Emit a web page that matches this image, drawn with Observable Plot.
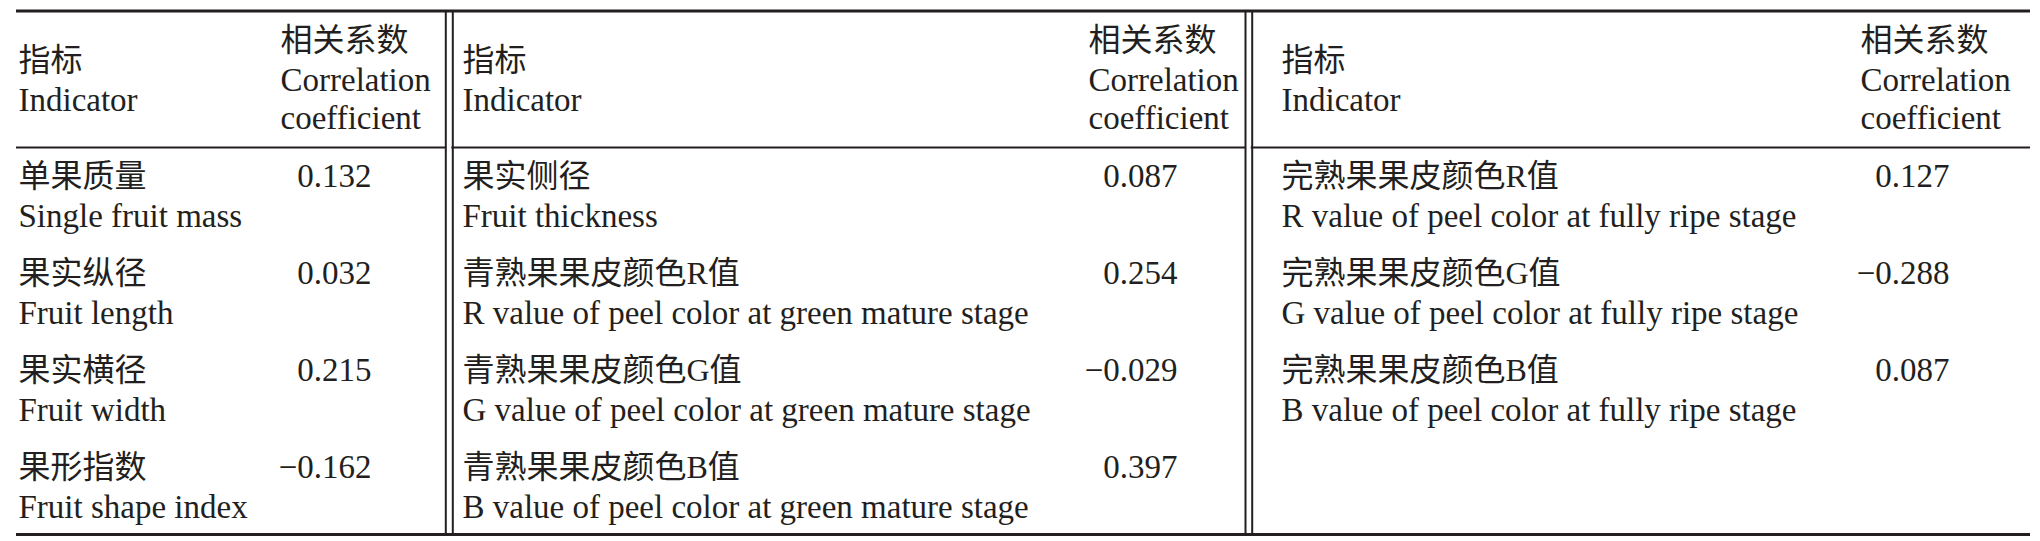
<!DOCTYPE html>
<html>
<head>
<meta charset="utf-8">
<script src="https://cdn.jsdelivr.net/npm/d3@7"></script>
<script src="https://cdn.jsdelivr.net/npm/@observablehq/plot@0.6"></script>
<style>
  html, body { margin: 0; padding: 0; background: #ffffff; }
  svg { display: block; }
</style>
</head>
<body>
<div id="chart"></div>
<script>
// ---------- data ----------
const headerIndicatorZh = "指标";
const headerIndicatorEn = "Indicator";
const headerCoefLines = ["相关系数", "Correlation", "coefficient"];

const indicatorZh = [
  "单果质量", "果实纵径", "果实横径", "果形指数",
  "果实侧径", "青熟果果皮颜色R值", "青熟果果皮颜色G值", "青熟果果皮颜色B值",
  "完熟果果皮颜色R值", "完熟果果皮颜色G值", "完熟果果皮颜色B值"
];
const indicatorEn = [
  "Single fruit mass", "Fruit length", "Fruit width", "Fruit shape index",
  "Fruit thickness", "R value of peel color at green mature stage",
  "G value of peel color at green mature stage", "B value of peel color at green mature stage",
  "R value of peel color at fully ripe stage", "G value of peel color at fully ripe stage",
  "B value of peel color at fully ripe stage"
];
const coefficients = [0.132, 0.032, 0.215, -0.162, 0.087, 0.254, -0.029, 0.397, 0.127, -0.288, 0.087];
const panelOf = [0, 0, 0, 0, 1, 1, 1, 1, 2, 2, 2];
const rowOf   = [0, 1, 2, 3, 0, 1, 2, 3, 0, 1, 2];
const panels = [0, 1, 2];

// ---------- layout ----------
const W = 2040, H = 541;
const ink = "#231f20";
const L = {
  left: 16, right: 2030,
  topRule: 10.5, headRule: 147, bottomRule: 534,
  indX: [18, 462, 1281],          // indicator column left edge per panel
  coefHeadX: [280, 1088, 1860],   // coefficient header left edge per panel
  coefRightX: [371, 1177, 1949],  // coefficient values right edge per panel
  dividers: [[445.3, 452.3], [1245, 1251.7]],
  zhBase: 186, enBase: 226, pitch: 97,
  headZhBase: 70, headEnBase: 110,
  coefHeadBase: [50, 90, 128]
};

const rows = indicatorZh.map((zh, i) => ({
  zh, en: indicatorEn[i], coef: coefficients[i], panel: panelOf[i], row: rowOf[i]
}));
const fmt = d3.format(".3f");

const hRules = [
  {y: L.topRule, x1: L.left, x2: L.right, w: 3},
  {y: L.bottomRule, x1: L.left, x2: L.right, w: 3},
  {y: L.headRule, x1: L.left, x2: L.dividers[0][0] + 1, w: 2.2},
  {y: L.headRule, x1: L.dividers[0][1] - 1, x2: L.dividers[1][0] + 1, w: 2.2},
  {y: L.headRule, x1: L.dividers[1][1] - 1, x2: L.right, w: 2.2}
];
const vRules = L.dividers.flat().map(x => ({x}));

const coefHead = panels.flatMap(p => headerCoefLines.map((t, k) => ({p, t, k})));

const serif = "'Liberation Serif', 'Noto Sans CJK SC', serif";

const chart = Plot.plot({
  width: W,
  height: H,
  margin: 0,
  x: {type: "linear", domain: [0, W], range: [0, W], axis: null},
  y: {type: "linear", domain: [0, H], range: [0, H], axis: null},
  style: {background: "#ffffff", fontFamily: serif, color: ink},
  marks: [
    Plot.ruleY(hRules, {y: "y", x1: "x1", x2: "x2", strokeWidth: d => d.w, stroke: ink}),
    Plot.ruleX(vRules, {x: "x", y1: L.topRule, y2: L.bottomRule, strokeWidth: 2, stroke: ink}),
    // header: indicator
    Plot.text(panels, {x: p => L.indX[p], y: L.headZhBase, text: () => headerIndicatorZh,
      textAnchor: "start", lineAnchor: "bottom", fontSize: 32, fill: ink, fontFamily: serif}),
    Plot.text(panels, {x: p => L.indX[p], y: L.headEnBase, text: () => headerIndicatorEn,
      textAnchor: "start", lineAnchor: "bottom", fontSize: 33, fill: ink, fontFamily: serif}),
    // header: coefficient
    Plot.text(coefHead, {x: d => L.coefHeadX[d.p], y: d => L.coefHeadBase[d.k], text: "t",
      textAnchor: "start", lineAnchor: "bottom", fontSize: d => d.k === 0 ? 32 : 33, fill: ink, fontFamily: serif}),
    // body
    Plot.text(rows, {x: d => L.indX[d.panel], y: d => L.zhBase + d.row * L.pitch, text: "zh",
      textAnchor: "start", lineAnchor: "bottom", fontSize: 32, fill: ink, fontFamily: serif}),
    Plot.text(rows, {x: d => L.indX[d.panel], y: d => L.enBase + d.row * L.pitch, text: "en",
      textAnchor: "start", lineAnchor: "bottom", fontSize: 33, fill: ink, fontFamily: serif}),
    Plot.text(rows, {x: d => L.coefRightX[d.panel], y: d => L.zhBase + d.row * L.pitch, text: d => fmt(d.coef),
      textAnchor: "end", lineAnchor: "bottom", fontSize: 33, fill: ink, fontFamily: serif})
  ]
});
document.getElementById("chart").appendChild(chart);
</script>
</body>
</html>
